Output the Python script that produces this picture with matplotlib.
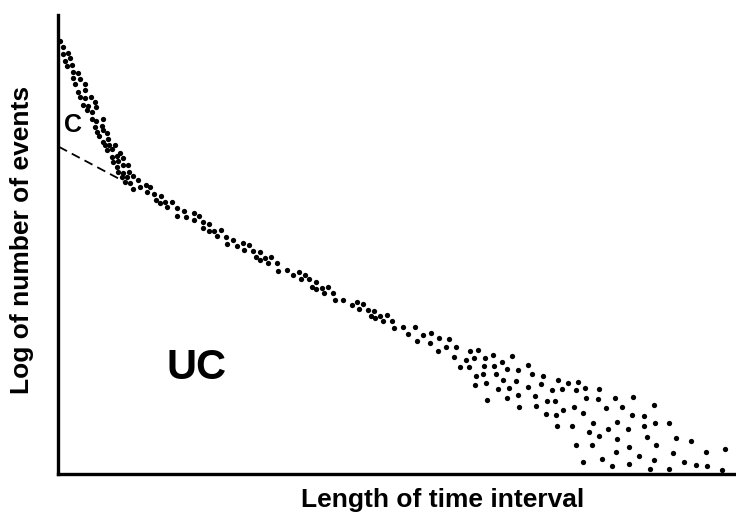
import matplotlib
matplotlib.use("Agg")
import matplotlib.pyplot as plt

plt.rcParams['font.family'] = ['Liberation Sans', 'DejaVu Sans']

# correlated part (steep, near the origin)
c_x = [2, 5, 5, 10, 7, 12, 9, 14, 15, 20, 15, 22, 17, 27, 20, 27, 22, 27, 33,
       25, 30, 37, 29, 34, 38, 34, 38, 45, 37, 44, 39, 45, 41, 49, 45, 50, 47,
       51, 49, 54, 57, 54, 59, 62, 55, 60, 65, 59, 65, 70, 60, 65, 71, 64, 69,
       75, 67, 72, 80, 75, 82, 88, 89]
c_y = [433, 427, 420, 421, 413, 416, 408, 409, 402, 401, 396, 395, 390, 390,
       382, 384, 377, 376, 377, 369, 368, 372, 364, 362, 367, 355, 353, 355,
       347, 348, 342, 344, 338, 341, 332, 335, 329, 329, 324, 325, 329, 317,
       318, 321, 312, 313, 316, 307, 309, 309, 302, 301, 302, 297, 297, 298,
       292, 291, 294, 285, 287, 289, 282]

# uncorrelated part (the long straight band, spreading out at the end)
uc_x = [92, 96, 103, 98, 102, 107, 114, 109, 119, 119, 126, 128, 136, 141, 136,
        145, 151, 145, 151, 156, 163, 159, 168, 169, 175, 179, 185, 191, 186,
        195, 202, 198, 202, 207, 213, 210, 219, 220, 229, 235, 241, 247, 243,
        251, 258, 254, 258, 264, 270, 266,
        275, 277, 285, 294, 299, 305, 301, 310, 316, 313, 317, 322, 329, 325,
        334, 336, 345, 357, 350, 365, 373, 359, 372, 381, 391, 380, 388, 398,
        396, 408, 412, 420, 416, 427, 435, 426, 436, 444, 402, 411, 449,
        418, 425, 417, 428, 429, 438, 445, 440, 451, 449, 454, 460, 458, 460,
        461, 470, 474, 470, 485, 483, 477, 478, 489, 488, 494, 500, 504, 510,
        497, 498, 505, 499, 514, 520, 518, 516, 527, 528, 525, 541, 540, 535,
        531, 541, 518, 534, 525,
        557, 575, 548, 564, 596, 574, 586, 559, 586, 597, 611, 550, 570, 559,
        589, 618, 633, 571, 598, 558, 581, 615, 648, 667, 544, 596, 626, 554,
        571, 592, 611, 638, 649, 664]
uc_y = [287, 280, 278, 274, 271, 272, 272, 267, 266, 258, 263, 257, 261, 258,
        254, 252, 250, 246, 243, 243, 244, 238, 237, 230, 234, 228, 231, 229,
        224, 223, 222, 217, 214, 216, 217, 211, 211, 203, 204, 199, 202, 199,
        195, 195, 192, 187, 185, 186, 187, 181,
        181, 174, 174, 169, 172, 170, 165, 164, 163, 158, 156, 158, 159, 153,
        153, 146, 147, 147, 140, 139, 141, 133, 131, 136, 135, 123, 127, 127,
        117, 114, 123, 124, 116, 116, 119, 108, 108, 112, 107, 107, 105,
        98, 100, 89, 91, 74, 100, 94, 85, 86, 76, 118, 104, 93, 79,
        67, 109, 100, 87, 98, 90, 78, 68, 73, 60, 84, 94, 85, 91,
        73, 59, 64, 48, 48, 92, 84, 67, 86, 76, 61, 85, 75, 51,
        42, 38, 29, 29, 12,
        76, 77, 66, 67, 69, 59, 58, 52, 48, 51, 51, 45, 45, 35,
        37, 36, 33, 27, 29, 22, 18, 21, 22, 25, 15, 14, 12, 8,
        10, 5, 5, 9, 8, 4]

# dashed extrapolation of the uncorrelated line
dash_x = [1, 65]
dash_y = [327, 293]

fig = plt.figure(figsize=(7.36, 5.23), dpi=100)
ax = fig.add_axes([0.0788, 0.0937, 0.921, 0.878])

ax.plot(c_x, c_y, 'o', color='black', markersize=3.8, markeredgewidth=0, clip_on=False)
ax.plot(uc_x, uc_y, 'o', color='black', markersize=3.8, markeredgewidth=0, clip_on=False)
ax.plot(dash_x, dash_y, color='black', linewidth=1.3, dashes=(5, 3))

ax.text(15, 349, 'C', fontsize=18, fontweight='bold', ha='center', va='center')
ax.text(139, 106, 'UC', fontsize=30, fontweight='bold', ha='center', va='center')

ax.set_xlim(0, 678)
ax.set_ylim(0, 459)
ax.set_xticks([])
ax.set_yticks([])
for side in ['top', 'right']:
    ax.spines[side].set_visible(False)
for side in ['left', 'bottom']:
    ax.spines[side].set_linewidth(2.4)
    ax.spines[side].set_color('black')

fig.text(0.602, 0.044, 'Length of time interval', fontsize=19, fontweight='bold',
         ha='center', va='center')
fig.text(0.030, 0.541, 'Log of number of events', fontsize=19, fontweight='bold',
         ha='center', va='center', rotation=90)

fig.savefig('out.png', dpi=100)
